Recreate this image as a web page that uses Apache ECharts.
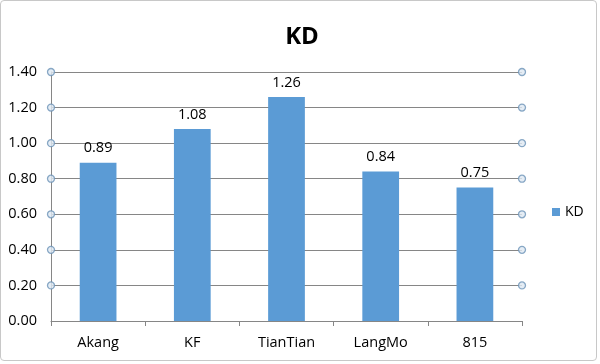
<!DOCTYPE html>
<html><head><meta charset="utf-8">
<script src="https://cdn.jsdelivr.net/npm/echarts@6/dist/echarts.min.js"></script>
<style>
html,body{margin:0;padding:0;background:#fff;}
#frame{position:absolute;left:0;top:0;width:595px;height:359px;border:1px solid #c8c8c8;border-radius:4px;}
#c{position:absolute;left:0;top:0;width:600px;height:364px;}
</style></head>
<body><div id="frame"></div><div id="c"></div>
<script>
var categories = ['Akang','KF','TianTian','LangMo','815'];
var kdValues = [0.89, 1.08, 1.26, 0.84, 0.75];
var tickValues = [0.2, 0.4, 0.6, 0.8, 1.0, 1.2, 1.4];
var seriesName = 'KD';

var markerData = [];
tickValues.forEach(function(v){ markerData.push([0, v]); markerData.push([1, v]); });

var font = '"Open Sans", "Noto Sans", sans-serif';
var chart = echarts.init(document.getElementById('c'), null, {renderer:'canvas'});
chart.setOption({
  animation:false,
  title:{text:'KD', left:297, top:20, textAlign:'center',
    textStyle:{fontSize:24, fontWeight:'bold', color:'#000', fontFamily:font}},
  legend:{data:[seriesName], left:547, top:200, itemWidth:8, itemHeight:8, itemGap:4,
    icon:'rect', textStyle:{fontSize:14, color:'#000', fontFamily:font}},
  grid:{left:51, right:78, top:72, bottom:43},
  xAxis:[{type:'category', data:categories,
    axisLine:{lineStyle:{color:'#868686', width:1}},
    axisTick:{show:true, length:5, lineStyle:{color:'#868686'}},
    axisLabel:{fontSize:14.5, color:'#000', margin:14, fontFamily:font}},
   {type:'value', min:0, max:1, show:false}],
  yAxis:{type:'value', min:0, max:1.4, interval:0.2,
    axisLine:{show:true, lineStyle:{color:'#868686'}},
    axisTick:{show:false},
    splitLine:{lineStyle:{color:'#868686', width:1}},
    axisLabel:{fontSize:14.5, color:'#000', margin:14, fontFamily:font,
      formatter:function(v){return v.toFixed(2);}}},
  series:[
    {name:seriesName, type:'bar', data:kdValues, barWidth:'39%',
     itemStyle:{color:'#5B9BD5'},
     label:{show:true, position:'top', distance:7, fontSize:14.5, color:'#000', fontFamily:font,
       formatter:function(p){return p.value.toFixed(2);}}},
    {type:'scatter', xAxisIndex:1, data:markerData, symbol:'circle', symbolSize:7,
     itemStyle:{color:'#dfe8f2', borderColor:'#6d93b8', borderWidth:1.3}, silent:true, z:5}
  ]
});
</script></body></html>
